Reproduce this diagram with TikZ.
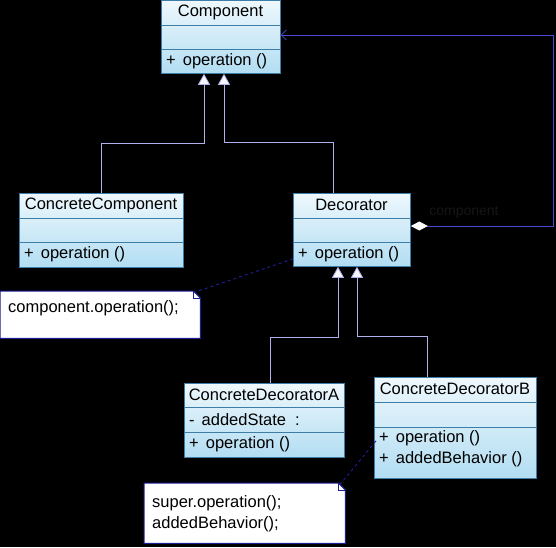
\documentclass[tikz,border=0pt]{standalone}
\usepackage{fontspec}
\setmainfont{Liberation Sans}
\usetikzlibrary{arrows.meta}
\definecolor{boxtop}{HTML}{EEF8FD}
\definecolor{boxbot}{HTML}{B2DDF2}
\definecolor{boxline}{HTML}{3C7EA8}
\definecolor{genline}{HTML}{B0B0EC}
\definecolor{aggline}{HTML}{4A4AD0}
\definecolor{noteline}{HTML}{1E1E96}
\definecolor{faint}{HTML}{161616}
\begin{document}
\begin{tikzpicture}[x=1pt,y=-1pt,
  cls/.style={draw=boxline, line width=0.8pt, top color=boxtop, bottom color=boxbot, inner sep=0pt, anchor=north west},
  sep/.style={draw=boxline, line width=0.8pt},
  txt/.style={font=\fontsize{16.5}{19}\selectfont, inner sep=0pt, text=black},
  ltxt/.style={txt, anchor=west},
  notebox/.style={inner sep=0pt, anchor=north west},
  noteborder/.style={draw=noteline, fill=white, line width=1pt},
  gen/.style={draw=genline, line width=0.8pt, -{Triangle[width=12pt,length=11pt,fill=white!90!genline]}},
  agg/.style={draw=aggline, line width=0.8pt},
  anchorline/.style={draw=noteline, line width=0.9pt, dashed}
]
\fill[black] (0,0) rectangle (556,547);
\useasboundingbox (0,0) rectangle (556,547);

% Component
\node[cls, minimum width=119pt, minimum height=73pt] (comp) at (161,0) {};
\draw[sep] (comp.west |- 0,25) -- (comp.east |- 0,25);
\draw[sep] (comp.west |- 0,49) -- (comp.east |- 0,49);
\node[txt] (compT) at (220.5,12) {Component};
\node[ltxt] (compO) at (166,61) {+\hspace{7pt}operation ()};

% ConcreteComponent
\node[cls, minimum width=164pt, minimum height=74pt] (cc) at (19,193) {};
\draw[sep] (cc.west |- 0,218) -- (cc.east |- 0,218);
\draw[sep] (cc.west |- 0,242) -- (cc.east |- 0,242);
\node[txt] (ccT) at (101,205) {ConcreteComponent};
\node[ltxt] (ccO) at (24,254) {+\hspace{7pt}operation ()};

% Decorator
\node[cls, minimum width=117pt, minimum height=73pt] (dec) at (293,193) {};
\draw[sep] (dec.west |- 0,218) -- (dec.east |- 0,218);
\draw[sep] (dec.west |- 0,242) -- (dec.east |- 0,242);
\node[txt] (decT) at (351.5,205) {Decorator};
\node[ltxt] (decO) at (298,254) {+\hspace{7pt}operation ()};

% ConcreteDecoratorA
\node[cls, minimum width=160pt, minimum height=74pt] (cda) at (184,383) {};
\draw[sep] (cda.west |- 0,407) -- (cda.east |- 0,407);
\draw[sep] (cda.west |- 0,432) -- (cda.east |- 0,432);
\node[txt] (cdaT) at (264,395) {ConcreteDecoratorA};
\node[ltxt] (cdaA) at (189,420) {-\hspace{7pt}addedState\hspace{9pt}:};
\node[ltxt] (cdaO) at (189,444) {+\hspace{7pt}operation ()};

% ConcreteDecoratorB
\node[cls, minimum width=162pt, minimum height=101pt] (cdb) at (374,377) {};
\draw[sep] (cdb.west |- 0,402) -- (cdb.east |- 0,402);
\draw[sep] (cdb.west |- 0,427) -- (cdb.east |- 0,427);
\node[txt] (cdbT) at (455,389) {ConcreteDecoratorB};
\node[ltxt] (cdbO1) at (379,438) {+\hspace{7pt}operation ()};
\node[ltxt] (cdbO2) at (379,459) {+\hspace{7pt}addedBehavior ()};

% Notes
\node[notebox, minimum width=200pt, minimum height=47pt] (n1) at (0,291) {};
\draw[noteborder] (n1.south west) -- (n1.north west) -- ([xshift=-7pt]n1.north east)
  -- ([yshift=-7pt]n1.north east) -- (n1.south east) -- cycle;
\draw[noteline, line width=0.8pt] ([xshift=-7pt]n1.north east) -- ([xshift=-7pt,yshift=-7pt]n1.north east) -- ([yshift=-7pt]n1.north east);
\node[ltxt] (n1T) at (8,308) {component.operation();};

\node[notebox, minimum width=201pt, minimum height=60pt] (n2) at (144,483) {};
\draw[noteborder] (n2.south west) -- (n2.north west) -- ([xshift=-7pt]n2.north east)
  -- ([yshift=-7pt]n2.north east) -- (n2.south east) -- cycle;
\draw[noteline, line width=0.8pt] ([xshift=-7pt]n2.north east) -- ([xshift=-7pt,yshift=-7pt]n2.north east) -- ([yshift=-7pt]n2.north east);
\node[ltxt] (n2T1) at (152,503) {super.operation();};
\node[ltxt] (n2T2) at (152,524) {addedBehavior();};

% note connectors
\draw[anchorline] ([yshift=-29pt]dec.west) -- ([xshift=-5pt,yshift=-1pt]n1.north east);
\draw[anchorline] ([xshift=2pt,yshift=-13pt]cdb.west) -- ([xshift=-5pt,yshift=-1pt]n2.north east);

% generalizations
\coordinate (g1) at (204,143);
\coordinate (g2) at (333,142);
\coordinate (g2b) at (224,142);
\draw[gen] (cc.north) |- (g1) -- (g1 |- comp.south);
\draw[gen] (g2 |- dec.north) -- (g2) -- (g2b) -- (g2b |- comp.south);

\coordinate (g3) at (270,337);
\coordinate (g3b) at (338,337);
\coordinate (g4) at (427,336);
\coordinate (g4b) at (357,336);
\draw[gen] (g3 |- cda.north) -- (g3) -- (g3b) -- (g3b |- dec.south);
\draw[gen] (g4 |- cdb.north) -- (g4) -- (g4b) -- (g4b |- dec.south);

% aggregation
\coordinate (da) at (553,226);
\coordinate (db) at (553,35);
\draw[agg, {Diamond[width=9pt,length=17pt,fill=white,color=white]}-{Straight Barb[length=5pt,width=10pt]}]
  (dec.east |- da) -- (da) -- (db) -- (comp.east |- db);
\node[font=\fontsize{14}{16}\selectfont, text=faint, inner sep=0pt] (aggL) at (464,212) {component};
\end{tikzpicture}
\end{document}
